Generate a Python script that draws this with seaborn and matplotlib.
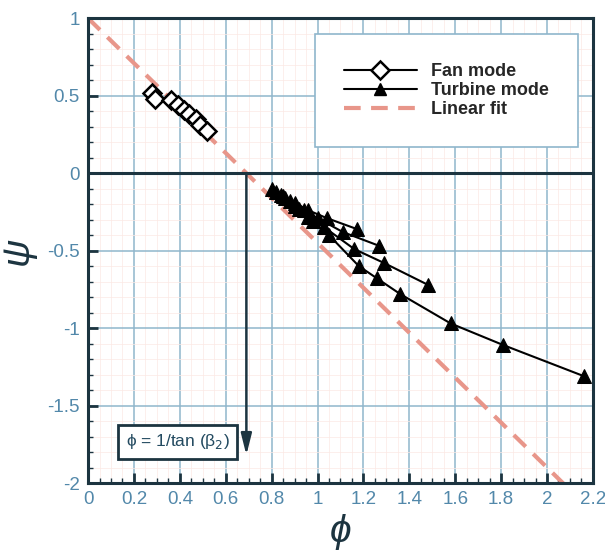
import numpy as np
import pandas as pd
import matplotlib
matplotlib.use("Agg")
import matplotlib.pyplot as plt
import seaborn as sns

# fan mode operating points (phi, psi)
fan_phi = [0.28, 0.29, 0.36, 0.39, 0.42, 0.44, 0.47, 0.49, 0.52]
fan_psi = [0.52, 0.48, 0.47, 0.44, 0.41, 0.38, 0.35, 0.31, 0.27]

# turbine mode, one list per speed line
turb_line = [1, 1, 1, 1, 1, 1,
             2, 2, 2, 2, 2, 2,
             3, 3, 3, 3, 3, 3, 3,
             4, 4, 4, 4, 4, 4, 4, 4, 4, 4]
turb_phi = [0.80, 0.85, 0.90, 0.96, 1.04, 1.17,
            0.82, 0.88, 0.94, 1.00, 1.11, 1.27,
            0.84, 0.90, 0.96, 1.03, 1.16, 1.29, 1.48,
            0.86, 0.92, 0.98, 1.05, 1.18, 1.26, 1.36, 1.58, 1.81, 2.16]
turb_psi = [-0.10, -0.15, -0.19, -0.24, -0.29, -0.36,
            -0.12, -0.18, -0.24, -0.29, -0.38, -0.47,
            -0.14, -0.21, -0.28, -0.35, -0.49, -0.58, -0.72,
            -0.16, -0.23, -0.31, -0.40, -0.60, -0.68, -0.78, -0.97, -1.11, -1.31]

# linear fit psi = a + b*phi
fit_a = 1.0
fit_b = -1.45
fit_phi = [0.0, 2.2]

phi0 = 0.69  # 1/tan(beta2), where the fit crosses zero

sns.set_style("ticks")
plt.rcParams['font.family'] = ['Liberation Sans', 'DejaVu Sans']

fig = plt.figure(figsize=(6.05, 5.52), dpi=100)
ax = fig.add_axes([0.1455, 0.125, 0.8345, 0.842])

grid_col = "#8fb6cc"
spine_col = "#1c3440"
tick_col = "#5288aa"

ax.set_xlim(0, 2.2)
ax.set_ylim(-2, 1)
ax.set_xticks(np.arange(0, 2.21, 0.2))
ax.set_yticks(np.arange(-2, 1.01, 0.5))
ax.set_xticks(np.arange(0, 2.21, 0.05), minor=True)
ax.set_yticks(np.arange(-2, 1.01, 0.1), minor=True)
ax.set_xticklabels(["0", "0.2", "0.4", "0.6", "0.8", "1", "1.2", "1.4", "1.6", "1.8", "2", "2.2"])
ax.set_yticklabels(["-2", "-1.5", "-1", "-0.5", "0", "0.5", "1"])
ax.grid(True, which="major", color=grid_col, lw=1.1)
ax.grid(True, which="minor", color="#fbe9e4", lw=0.5)
ax.set_axisbelow(True)
ax.tick_params(which="major", direction="in", length=7, width=2, color=spine_col,
               labelsize=13.5, labelcolor=tick_col, pad=6)
ax.tick_params(which="minor", direction="in", length=3.5, width=1, color=spine_col)
for s in ax.spines.values():
    s.set_color(spine_col)
    s.set_linewidth(2.2)

# linear fit
fit_psi = [fit_a + fit_b * p for p in fit_phi]
ax.plot(fit_phi, fit_psi, color="#e8968a", lw=3, ls=(0, (4, 2.5)), zorder=2,
        label="Linear fit")

# zero line and arrow at phi0
ax.axhline(0, color=spine_col, lw=2.2, zorder=3)
ax.annotate("", xy=(phi0, -1.82), xytext=(phi0, 0.0),
            arrowprops=dict(arrowstyle="-|>,head_width=0.2,head_length=0.8",
                            color=spine_col, lw=1.8, fc=spine_col,
                            mutation_scale=16, shrinkA=0, shrinkB=0), zorder=3)
ax.text(0.39, -1.735, "ϕ = 1/tan (β$_2$)", ha="center", va="center", fontsize=12.5,
        color="#234a60",
        bbox=dict(boxstyle="square,pad=0.45", fc="white", ec=spine_col, lw=2))

fan_df = pd.DataFrame({"phi": fan_phi, "psi": fan_psi})
sns.lineplot(data=fan_df, x="phi", y="psi", ax=ax, color="black", lw=1.5,
             marker="D", markersize=9, markerfacecolor="white",
             markeredgecolor="black", markeredgewidth=1.8, estimator=None,
             sort=False, zorder=5, label="Fan mode")

turb_df = pd.DataFrame({"line": turb_line, "phi": turb_phi, "psi": turb_psi})
sns.lineplot(data=turb_df, x="phi", y="psi", units="line", estimator=None,
             ax=ax, color="black", lw=1.5, marker="^", markersize=10,
             markeredgecolor="black", sort=False, zorder=5)
ax.plot([], [], color="black", lw=1.5, marker="^", markersize=9, label="Turbine mode")

h, l = ax.get_legend_handles_labels()
order = [l.index("Fan mode"), l.index("Turbine mode"), l.index("Linear fit")]
leg = ax.legend([h[i] for i in order], [l[i] for i in order],
                loc="upper right", bbox_to_anchor=(0.97, 0.965),
                prop=dict(weight="bold", size=13), frameon=True, fancybox=False,
                borderpad=1.6, handlelength=4, labelspacing=0.1,
                borderaxespad=0)
leg.get_frame().set_edgecolor(grid_col)
leg.get_frame().set_linewidth(1.2)
leg.get_frame().set_facecolor("white")
leg.get_frame().set_alpha(1)

ax.set_xlabel("ϕ", fontsize=28, style="italic", color=spine_col, labelpad=4)
ax.set_ylabel("ψ", fontsize=28, style="italic", color=spine_col, labelpad=8)

fig.savefig("out.png", dpi=100)
